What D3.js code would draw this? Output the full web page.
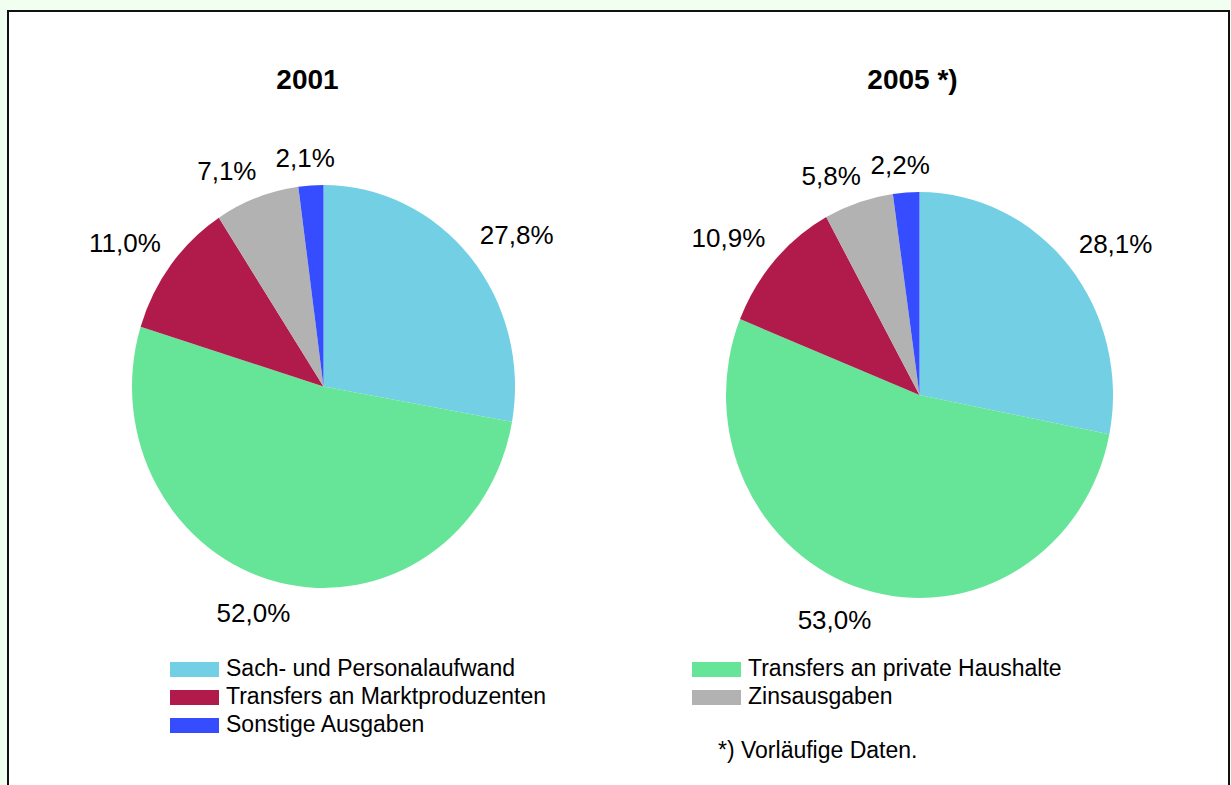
<!DOCTYPE html>
<html>
<head>
<meta charset="utf-8">
<script src="https://cdn.jsdelivr.net/npm/d3@7"></script>
<style>
  body { margin: 0; background: #f0fff0; }
  svg { display: block; }
  text { font-family: "Liberation Sans", Arial, sans-serif; fill: #000; }
</style>
</head>
<body>
<svg id="chart" width="1231" height="785"></svg>
<script>

// categories (clockwise from 12 o'clock)
let categories = ["Sach- und Personalaufwand", "Transfers an private Haushalte", "Transfers an Marktproduzenten", "Zinsausgaben", "Sonstige Ausgaben"];
let colours = ["#72cfe4", "#66e599", "#b01b4b", "#b2b2b2", "#354dff"];

let years = ["2001", "2005 *)"];
let values2001 = [27.8, 52.0, 11.0, 7.1, 2.1];
let values2005 = [28.1, 53.0, 10.9, 5.8, 2.2];

let footnote = "*) Vorläufige Daten.";

var svg = d3.select("#chart");

// white panel with dark frame
svg.append("rect")
  .attr("x", 8).attr("y", 11)
  .attr("width", 1221).attr("height", 800)
  .attr("fill", "#fff")
  .attr("stroke", "#111")
  .attr("stroke-width", 2);

var fmt = function(v) { return d3.format(".1f")(v).replace(".", ",") + "%"; };
var clamp = function(v) { return Math.max(-1, Math.min(1, v)); };

// layout for each pie: centre, radii, title position
var pies = [
  { title: years[0], values: values2001, cx: 323.5, cy: 386.5, rx: 191.5, ry: 201.5, tx: 307.5, ty: 89 },
  { title: years[1], values: values2005, cx: 919.5, cy: 395, rx: 193.5, ry: 203, tx: 912.5, ty: 89 }
];

var pieGen = d3.pie().sort(null).value(function(d) { return d; });

pies.forEach(function(p) {

  svg.append("text")
    .attr("x", p.tx)
    .attr("y", p.ty)
    .attr("text-anchor", "middle")
    .style("font-size", "28px")
    .style("font-weight", "bold")
    .text(p.title);

  var arcs = pieGen(p.values);
  var arc = d3.arc().innerRadius(0).outerRadius(p.ry);

  var g = svg.append("g")
    .attr("transform", "translate(" + p.cx + "," + p.cy + ") scale(" + (p.rx / p.ry) + ",1)");

  g.selectAll("path")
    .data(arcs)
    .enter().append("path")
    .attr("d", arc)
    .attr("fill", function(d, i) { return colours[i]; });

  // labels: anchor just outside the rim, box pushed away from the pie
  var k = 1.065, hhUp = 14, hhDown = 18;
  arcs.forEach(function(d) {
    var a = (d.startAngle + d.endAngle) / 2;
    var s = Math.sin(a), c = Math.cos(a);
    var t = svg.append("text")
      .style("font-size", "26px")
      .attr("text-anchor", "middle")
      .text(fmt(d.data));
    var hw = t.node().getComputedTextLength() / 2;
    var px = p.cx + p.rx * k * s, py = p.cy - p.ry * k * c;
    var x = px + hw * clamp(2.5 * s);
    var y = py - (c > 0 ? hhUp : hhDown) * clamp(2.5 * c);
    t.attr("x", x).attr("y", y + 9);
  });
});

// legend, two columns
var legendX = [170, 692];
var rowY = [662, 690, 718];
var leg = svg.append("g");
categories.forEach(function(name, i) {
  var col = i % 2, row = Math.floor(i / 2);
  leg.append("rect")
    .attr("x", legendX[col]).attr("y", rowY[row])
    .attr("width", 49).attr("height", 15)
    .attr("fill", colours[i]);
  leg.append("text")
    .attr("x", legendX[col] + 56)
    .attr("y", rowY[row] + 14)
    .style("font-size", "23px")
    .text(name);
});

svg.append("text")
  .attr("x", 718).attr("y", 758)
  .style("font-size", "23px")
  .text(footnote);

</script>
</body>
</html>
